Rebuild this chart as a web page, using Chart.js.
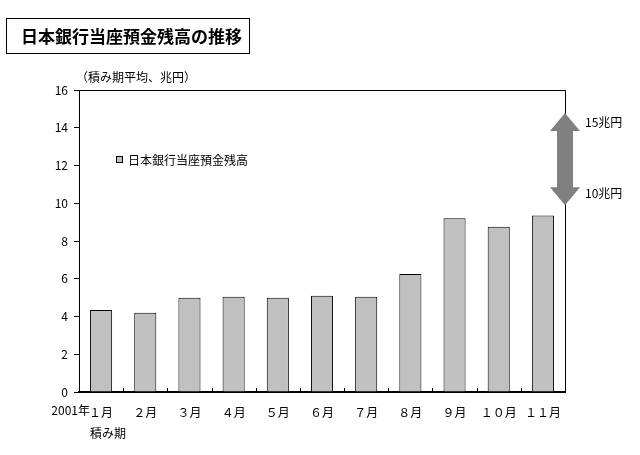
<!DOCTYPE html>
<html>
<head>
<meta charset="utf-8">
<script src="https://cdn.jsdelivr.net/npm/chart.js@4"></script>
<style>
  body { margin: 0; background: #fff; }
  #wrap { position: relative; width: 640px; height: 455px; }
  #title {
    position: absolute; left: 6px; top: 18px; width: 244px; height: 36px;
    border: 1px solid #000; box-sizing: border-box;
    font: bold 17px "Noto Sans CJK JP", sans-serif; line-height: 33px;
    padding-left: 14px; color: #000; white-space: nowrap;
  }
</style>
</head>
<body>
<div id="wrap">
  <canvas id="myChart" width="640" height="455"></canvas>
  <div id="title">日本銀行当座預金残高の推移</div>
</div>
<script>
const months = ['１月', '２月', '３月', '４月', '５月', '６月', '７月', '８月', '９月', '１０月', '１１月'];
const balances = [4.35, 4.2, 5.0, 5.05, 5.0, 5.1, 5.05, 6.25, 9.2, 8.75, 9.35];
const targetRange = [15, 10];
const targetLabels = ['15兆円', '10兆円'];

const FONT = '"Noto Sans CJK JP", sans-serif';

// 枠線・凡例・矢印などを描く
const extras = {
    id: 'extras',
    afterDraw(chart) {
        const ctx = chart.ctx;
        const a = chart.chartArea;
        const x = chart.scales.x;
        const y = chart.scales.y;
        ctx.save();
        ctx.strokeStyle = '#000';
        ctx.lineWidth = 1;
        ctx.beginPath();
        ctx.moveTo(a.left, a.top + 0.5);
        ctx.lineTo(a.right + 0.5, a.top + 0.5);
        ctx.lineTo(a.right + 0.5, a.bottom);
        // 横軸の目盛り（内向き）
        const step = (a.right - a.left) / months.length;
        for (let i = 1; i < months.length; i++) {
            const px = Math.round(x.getPixelForValue(i) - step / 2) + 0.5;
            ctx.moveTo(px, a.bottom);
            ctx.lineTo(px, a.bottom - 4);
        }
        ctx.stroke();

        ctx.font = '12px ' + FONT;
        ctx.fillStyle = '#000';
        ctx.textBaseline = 'middle';
        ctx.textAlign = 'left';
        ctx.fillText('（積み期平均、兆円）', 76, 77);
        ctx.fillText('積み期', 90, 433);
        ctx.textAlign = 'right';
        ctx.fillText('2001年', 90, 410);
        ctx.textAlign = 'left';

        // 凡例
        ctx.fillStyle = '#c0c0c0';
        ctx.fillRect(116, 156, 7, 7);
        ctx.strokeRect(116.5, 156.5, 6, 6);
        ctx.fillStyle = '#000';
        ctx.fillText('日本銀行当座預金残高', 128, 160);

        // 目標レンジの矢印
        const ax = a.right;
        const yTop = y.getPixelForValue(targetRange[0]) + 4;
        const yBot = y.getPixelForValue(targetRange[1]) + 2;
        const hw = 15, sw = 8, hh = 18;
        ctx.fillStyle = '#808080';
        ctx.beginPath();
        ctx.moveTo(ax, yTop);
        ctx.lineTo(ax + hw, yTop + hh);
        ctx.lineTo(ax + sw, yTop + hh);
        ctx.lineTo(ax + sw, yBot - hh);
        ctx.lineTo(ax + hw, yBot - hh);
        ctx.lineTo(ax, yBot);
        ctx.lineTo(ax - hw, yBot - hh);
        ctx.lineTo(ax - sw, yBot - hh);
        ctx.lineTo(ax - sw, yTop + hh);
        ctx.lineTo(ax - hw, yTop + hh);
        ctx.closePath();
        ctx.fill();

        ctx.fillStyle = '#000';
        ctx.fillText(targetLabels[0], 585, y.getPixelForValue(targetRange[0]) + 14);
        ctx.fillText(targetLabels[1], 585, y.getPixelForValue(targetRange[1]) - 10);
        ctx.restore();
    }
};

const ctx = document.getElementById('myChart').getContext('2d');
const myChart = new Chart(ctx, {
    type: 'bar',
    data: {
        labels: months,
        datasets: [{
            label: '日本銀行当座預金残高',
            data: balances,
            backgroundColor: '#c0c0c0',
            borderColor: '#000',
            borderWidth: 1,
            barPercentage: 0.5,
            categoryPercentage: 1
        }]
    },
    options: {
        responsive: false,
        animation: false,
        layout: { padding: { top: 90, right: 75, left: 0, bottom: 0 } },
        plugins: { legend: { display: false }, tooltip: { enabled: false } },
        scales: {
            x: {
                grid: { display: false },
                border: { color: '#000', width: 2 },
                ticks: { color: '#000', font: { family: FONT, size: 12 }, maxRotation: 0, autoSkip: false, padding: 5 },
                afterFit(s) { s.height = 63; }
            },
            y: {
                min: 0,
                max: 16,
                grid: { drawOnChartArea: false, tickLength: 5, color: '#000' },
                border: { color: '#000', width: 1 },
                ticks: { stepSize: 2, color: '#000', font: { family: FONT, size: 12 }, padding: 6 },
                afterFit(s) { s.width = 79; }
            }
        }
    },
    plugins: [extras]
});
</script>
</body>
</html>
